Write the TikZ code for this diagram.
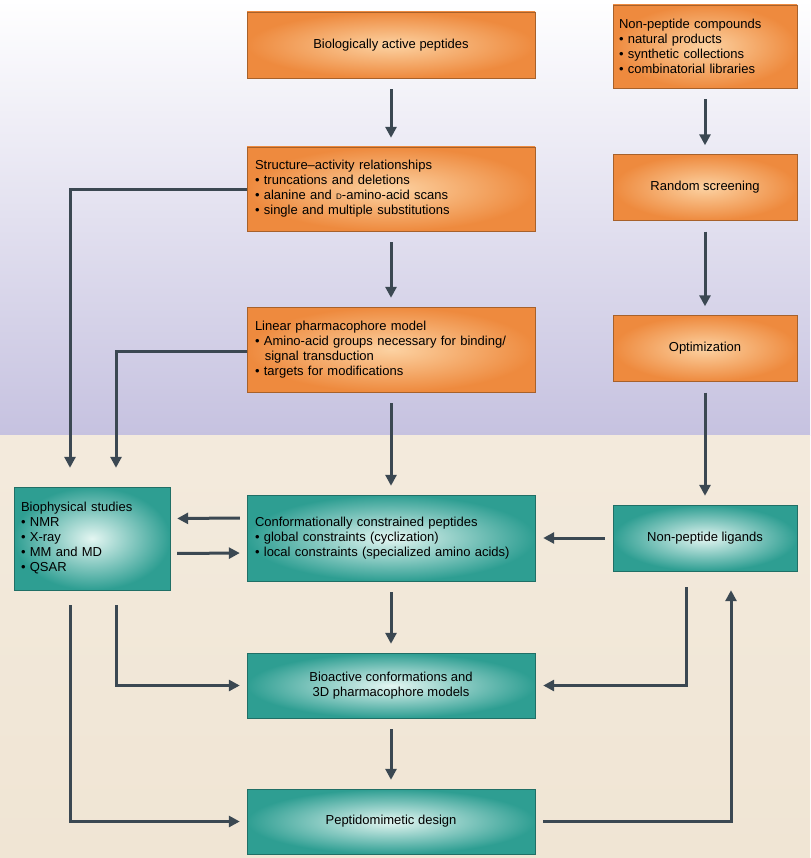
\documentclass[tikz,border=0pt]{standalone}
\usepackage{fontspec}
\setmainfont{Liberation Sans}
\usetikzlibrary{positioning, arrows.meta}

\definecolor{arrgray}{HTML}{3B4852}
\definecolor{orin}{HTML}{FCD2A2}
\definecolor{orout}{HTML}{EE8A3E}
\definecolor{tlin}{HTML}{E4F6F2}
\definecolor{tlout}{HTML}{2E9E92}
\definecolor{lav}{HTML}{C6C2E0}
\definecolor{beige}{HTML}{F0E5D4}

\tikzset{
  obox/.style={draw=orout!70!black, line width=0.4pt, shading=radial,
    inner color=orin, outer color=orout, minimum width=288, minimum height=66,
    font=\fontsize{13}{15}\selectfont, align=center},
  rbox/.style={obox, minimum width=184},
  tbox/.style={obox, draw=tlout!70!black, inner color=tlin, outer color=tlout},
  ltxt/.style={align=left, text width=272},
  arr/.style={draw=arrgray, line width=3pt,
    -{Triangle[length=11pt,width=11pt]}, shorten <=11pt, shorten >=9pt},
}

\begin{document}
\begin{tikzpicture}[x=1pt, y=-1pt]
  % backgrounds
  \shade[top color=white, bottom color=lav] (0,0) rectangle (810,435);
  \shade[top color=beige!80!white, bottom color=beige] (0,435) rectangle (810,858);
  \useasboundingbox (0,0) rectangle (810,858);

  % peptide column
  \node[obox] (bap) at (391,45) {Biologically active peptides};
  \node[obox, minimum height=84, ltxt] (sar) at (391,189) {Structure--activity relationships\\
    \textbullet\ truncations and deletions\\
    \textbullet\ alanine and {\footnotesize D}-amino-acid scans\\
    \textbullet\ single and multiple substitutions};
  \node[obox, minimum height=85, ltxt] (lpm) at (391,349.5) {Linear pharmacophore model\\
    \textbullet\ Amino-acid groups necessary for binding/\\
    \hspace*{0.75em}signal transduction\\
    \textbullet\ targets for modifications};
  \node[tbox, minimum height=86, ltxt] (ccp) at (391,538) {Conformationally constrained peptides\\
    \textbullet\ global constraints (cyclization)\\
    \textbullet\ local constraints (specialized amino acids)};
  \node[tbox, minimum height=65] (bac) at (391,685.5) {Bioactive conformations and\\3D pharmacophore models};
  \node[tbox, minimum height=65] (pep) at (391,821.5) {Peptidomimetic design};

  % non-peptide column
  \node[rbox, minimum height=83, align=left, text width=172] (npc) at (705,46.5) {Non-peptide compounds\\
    \textbullet\ natural products\\
    \textbullet\ synthetic collections\\
    \textbullet\ combinatorial libraries};
  \node[rbox] (rsc) at (705,187.5) {Random screening};
  \node[rbox] (opt) at (705,348.5) {Optimization};
  \node[tbox, minimum width=184, minimum height=66] (npl) at (705,538) {Non-peptide ligands};

  % biophysical
  \node[tbox, minimum width=156, minimum height=103, align=left, text width=142] (bph) at (92,538.5) {Biophysical studies\\
    \textbullet\ NMR\\
    \textbullet\ X-ray\\
    \textbullet\ MM and MD\\
    \textbullet\ QSAR};

  % straight arrows
  \draw[arr] (bap) -- (sar);
  \draw[arr] (sar) -- (lpm);
  \draw[arr] (lpm) -- (ccp);
  \draw[arr] (ccp) -- (bac);
  \draw[arr] (bac) -- (pep);
  \draw[arr] (npc) -- (rsc);
  \draw[arr] (rsc) -- (opt);
  \draw[arr] (opt) -- (npl);
  \draw[arr, shorten <=7pt, shorten >=7pt] ([yshift=20]ccp.west) -- ([yshift=20]bph.east);
  \draw[arr, shorten <=7pt, shorten >=7pt] ([yshift=-15]bph.east) -- ([yshift=-15]ccp.west);
  \draw[arr, shorten <=8pt, shorten >=8pt] (npl.west) -- (ccp.east);

  % elbow arrows
  \draw[arr, shorten <=0pt, shorten >=19pt] ([yshift=-1]sar.west) -| ([xshift=-22]bph.north);
  \draw[arr, shorten <=0pt, shorten >=19pt] ([yshift=-2]lpm.west) -| ([xshift=24]bph.north);
  \draw[arr, shorten <=15pt, shorten >=7pt] ([xshift=24]bph.south) |- (bac.west);
  \draw[arr, shorten <=15pt, shorten >=7pt] ([xshift=-22]bph.south) |- (pep.west);
  \draw[arr, shorten <=16pt, shorten >=8pt] ([xshift=-19]npl.south) |- (bac.east);
  \draw[arr, shorten <=8pt, shorten >=19pt] (pep.east) -| ([xshift=26]npl.south);
\end{tikzpicture}
\end{document}
